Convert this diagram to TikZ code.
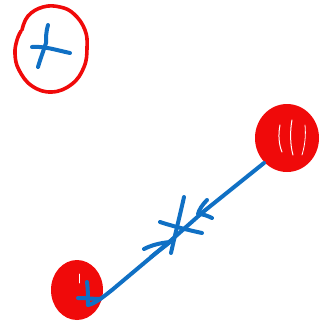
\documentclass[tikz,border=0pt]{standalone}
\definecolor{inkred}{RGB}{240,10,10}
\definecolor{inkblue}{RGB}{16,112,196}
\begin{document}
\begin{tikzpicture}[x=1pt,y=-1pt,line cap=round,line join=round,
  redink/.style={draw=inkred,line width=3.6pt},
  blueink/.style={draw=inkblue,line width=4pt},
  blob/.style={fill=inkred}]
\useasboundingbox (0,0) rectangle (321,322);
% top-left open red loop
\draw[redink] plot[smooth,tension=0.7] coordinates {(22,30) (28,16) (43,7) (60,7) (74,14) (85,30) (87,48) (84,67) (72,84) (52,92) (32,86) (19,70) (15,54) (17,40) (21,31)};
% blue cross inside
\draw[blueink] (48,25) .. controls (46,32) and (46,37) .. (46,43) .. controls (43,52) and (40,60) .. (38,67);
\draw[blueink] (32,47) .. controls (44,46) and (56,50) .. (70,53);
% right red blob
\fill[blob] (287,138) ellipse [x radius=32, y radius=34];
\draw[white,line width=1pt] (280,125) .. controls (278,135) and (279,145) .. (282,152);
\draw[white,line width=1pt] (292,120) .. controls (290,130) and (290,145) .. (293,155);
\draw[white,line width=0.8pt] (305,125) .. controls (306,135) and (305,145) .. (302,155);
% bottom-left red blob
\fill[blob] (77,290) ellipse [x radius=26, y radius=30];
\draw[white,line width=0.8pt] (79,274) -- (79,283);
% main blue line
\draw[blueink] (264,163) -- (203,212);
\draw[blueink] (203,212) -- (168,243);
\draw[blueink] (168,243) -- (112,290) .. controls (102,298) and (94,304) .. (88,305);
% upper arrow head (pointing down-left)
\draw[blueink] (207,200) .. controls (202,205) and (199,210) .. (198,214) .. controls (203,214) and (208,216) .. (212,218);
% lower arrow head (pointing up-right)
\draw[blueink] (144,249) .. controls (152,245) and (160,243) .. (170,242) .. controls (164,247) and (157,252) .. (151,257);
% middle cross
\draw[blueink] (184,197) .. controls (180,215) and (175,235) .. (171,253);
\draw[blueink] (160,222) .. controls (172,226) and (188,230) .. (202,233);
% bottom-left blue mark
\draw[blueink] (87,282) .. controls (88,290) and (88,298) .. (88,305);
\draw[blueink] (78,298) .. controls (86,298) and (94,299) .. (100,299);
\end{tikzpicture}
\end{document}
